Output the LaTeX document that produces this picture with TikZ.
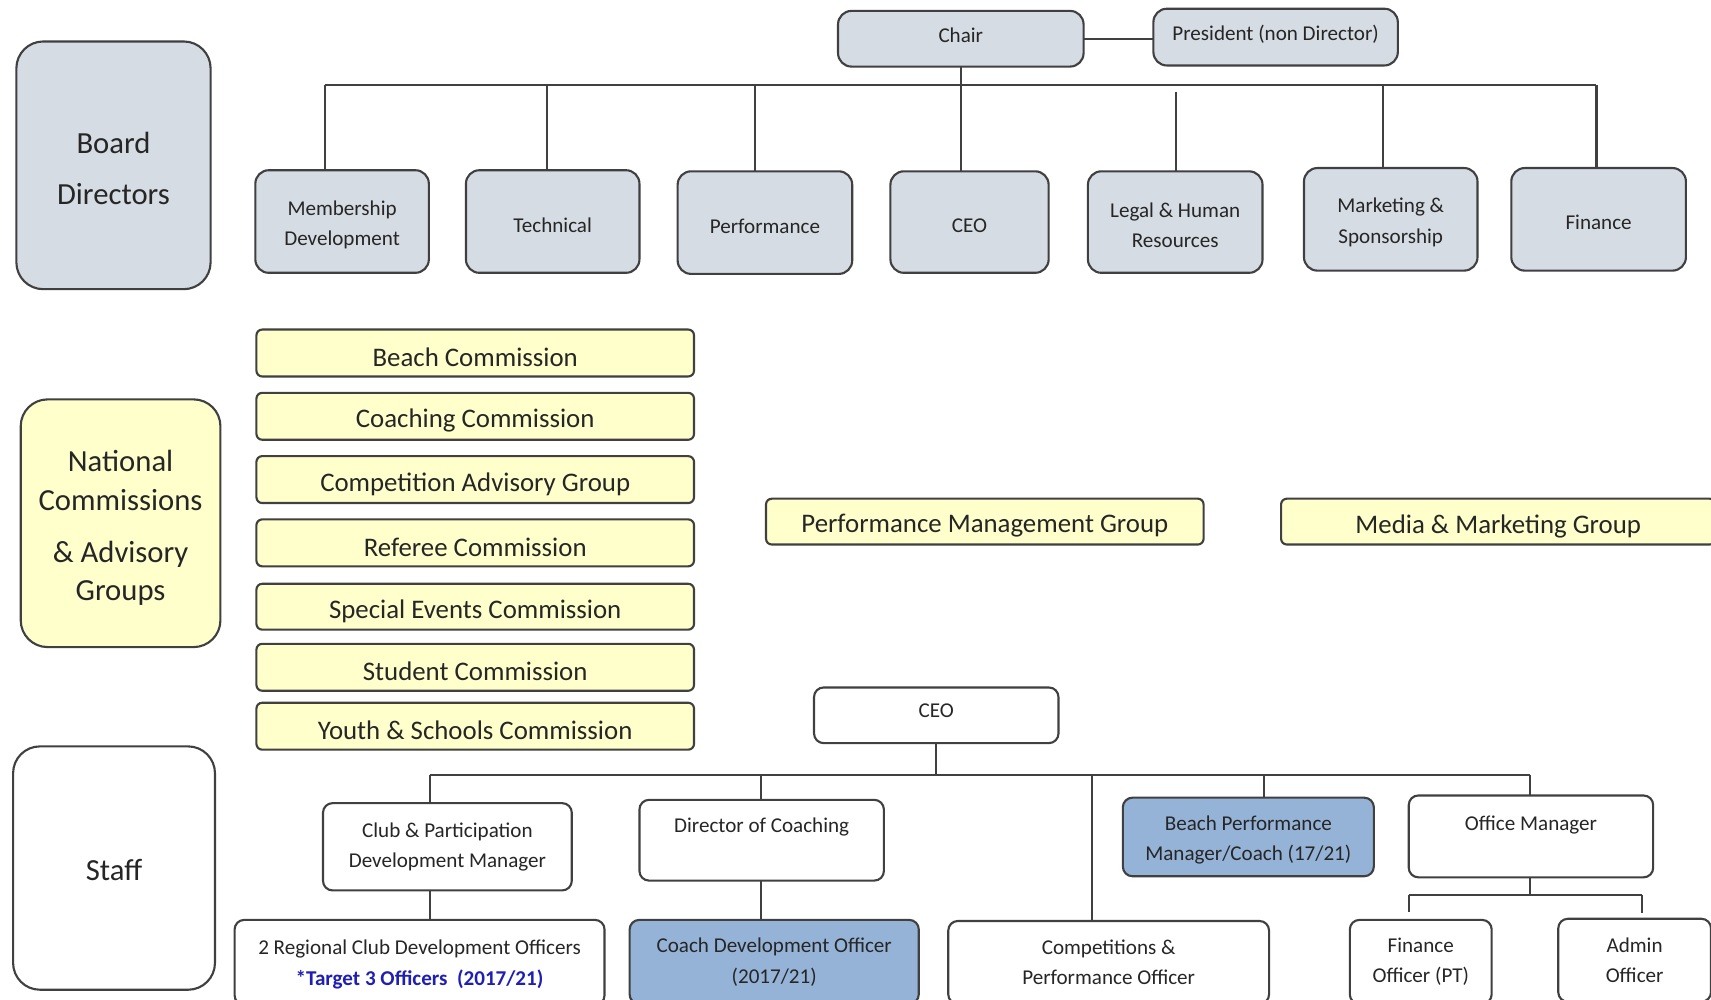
\documentclass[tikz,border=0pt]{standalone}
\usepackage{fontspec}
\setmainfont{Carlito}
\definecolor{bfill}{HTML}{D6DCE4}
\definecolor{yfill}{HTML}{FFFFCC}
\definecolor{sblue}{HTML}{95B3D7}
\definecolor{edge}{HTML}{404040}
\definecolor{ink}{HTML}{262626}
\definecolor{tblue}{HTML}{1F1FB4}
\newcommand\bx[7]{\node[#6, minimum width={(#4-#2)*0.02cm}, minimum height={(#5-#3)*0.02cm}] (#1) at ({(#2+#4)/2},{(#3+#5)/2}) {};
\node[#6, draw=none, fill=none, txtoff] at (#1.center) {#7};}
\begin{document}
\begin{tikzpicture}[x=0.02cm,y=-0.02cm,
 every node/.style={inner sep=0pt, outer sep=0pt, text=ink, align=center},
 txtoff/.style={},
 board/.style={draw=edge, line width=1.1pt, fill=bfill, rounded corners=7pt, font=\fontsize{11}{15.9}\selectfont, txtoff/.style={yshift=-1.7pt}},
 biglbl/.style={draw=edge, line width=1.1pt, rounded corners=14pt, font=\fontsize{16}{26.6}\selectfont},
 comm/.style={draw=edge, line width=1.1pt, fill=yfill, rounded corners=3pt, font=\fontsize{14}{18}\selectfont, txtoff/.style={yshift=-2.3pt}},
 staffbox/.style={draw=edge, line width=1.1pt, fill=white, rounded corners=5pt, font=\fontsize{11}{15.9}\selectfont},
 conn/.style={draw=edge, line width=1.1pt}]
\useasboundingbox[fill=white] (0,0) rectangle (1568,916);
% Board
\bx{bd}{15}{38}{193}{265}{biglbl,fill=bfill,txtoff/.style={yshift=-1.7pt}}{Board\\Directors}
\bx{chair}{768}{10}{993}{61}{board,txtoff/.style={yshift=1.7pt}}{Chair}
\bx{pres}{1057}{8}{1281}{60}{board,txtoff/.style={yshift=1.7pt}}{President (non Director)}
\bx{mem}{234}{156}{393}{250}{board}{Membership\\Development}
\bx{tech}{427}{156}{586}{250}{board}{Technical}
\bx{perf}{621}{157}{781}{251}{board}{Performance}
\bx{ceoa}{816}{157}{961}{250}{board}{CEO}
\bx{legal}{997}{157}{1157}{250}{board}{Legal \& Human\\Resources}
\bx{mkt}{1195}{154}{1354}{248}{board}{Marketing \&\\Sponsorship}
\bx{fin}{1385}{154}{1545}{248}{board}{Finance}
\draw[conn] (chair.east) -- (chair.east -| pres.west);
\coordinate (b1) at (298,78);
\coordinate (b2) at (501,78);
\coordinate (b3) at (692,78);
\coordinate (b5) at (1078,84);
\coordinate (b6) at (1267,78);
\coordinate (b7) at (1463,78);
\draw[conn] (b1) -- (b7);
\draw[conn] (chair.south) -- (chair.south |- ceoa.north);
\draw[conn] (b1) -- (b1 |- mem.north);
\draw[conn] (b2) -- (b2 |- tech.north);
\draw[conn] (b3) -- (b3 |- perf.north);
\draw[conn] (b5) -- (b5 |- legal.north);
\draw[conn] (b6) -- (b6 |- mkt.north);
\draw[conn] (b7) -- (b7 |- fin.north);
% Commissions
\bx{nat}{19}{366}{202}{593}{biglbl,fill=yfill,font=\fontsize{16}{20}\selectfont,txtoff/.style={yshift=-2.5pt}}{National\\Commissions\\[7pt]\& Advisory\\Groups}
\bx{c1}{235}{302}{636}{345}{comm}{Beach Commission}
\bx{c2}{235}{360}{636}{403}{comm}{Coaching Commission}
\bx{c3}{235}{418}{636}{461}{comm}{Competition Advisory Group}
\bx{c4}{235}{476}{636}{519}{comm}{Referee Commission}
\bx{c5}{235}{535}{636}{577}{comm}{Special Events Commission}
\bx{c6}{235}{590}{636}{633}{comm}{Student Commission}
\bx{c7}{235}{644}{636}{687}{comm}{Youth \& Schools Commission}
\bx{pmg}{702}{457}{1103}{499}{comm}{Performance Management Group}
\bx{mmg}{1174}{457}{1572}{499}{comm}{Media \& Marketing Group}
% Staff
\bx{staff}{12}{684}{197}{907}{biglbl,fill=white,txtoff/.style={yshift=-1.1pt}}{Staff}
\bx{ceob}{746}{630}{970}{681}{staffbox,txtoff/.style={yshift=2.6pt}}{CEO}
\bx{club}{296}{736}{524}{816}{staffbox}{Club \& Participation\\Development Manager}
\bx{doc}{586}{733}{810}{807}{staffbox}{Director of Coaching\\\mbox{}}
\bx{beach}{1029}{731}{1259}{803}{staffbox,fill=sblue,txtoff/.style={yshift=-1.6pt}}{Beach Performance\\Manager/Coach (17/21)}
\bx{office}{1291}{729}{1515}{804}{staffbox,txtoff/.style={yshift=-1pt}}{Office Manager\\\mbox{}}
\bx{reg}{215}{843}{554}{921}{staffbox,txtoff/.style={yshift=-1pt}}{2 Regional Club Development Officers\\{\color{tblue}\bfseries *Target 3 Officers\ \ (2017/21)}}
\bx{cdo}{577}{843}{842}{920}{staffbox,fill=sblue}{Coach Development Officer\\(2017/21)}
\bx{comp}{869}{844}{1163}{920}{staffbox}{Competitions \&\\Performance Officer}
\bx{fo}{1237}{843}{1367}{920}{staffbox}{Finance\\Officer (PT)}
\bx{ao}{1428}{842}{1568}{918}{staffbox}{Admin\\Officer}
\coordinate (s1) at (394,710);
\coordinate (s2) at (697,710);
\coordinate (s3) at (1001,710);
\coordinate (s4) at (1158,710);
\coordinate (s5) at (1402,710);
\draw[conn] (ceob.south) -- (ceob.south |- s1);
\draw[conn] (s1) -- (s5);
\draw[conn] (s1) -- (s1 |- club.north);
\draw[conn] (s2) -- (s2 |- doc.north);
\draw[conn] (s3) -- (s3 |- comp.north);
\draw[conn] (s4) -- (s4 |- beach.north);
\draw[conn] (s5) -- (s5 |- office.north);
\draw[conn] (s1 |- club.south) -- (s1 |- reg.north);
\draw[conn] (s2 |- doc.south) -- (s2 |- cdo.north);
\coordinate (oj) at (1402,820);
\coordinate (ol) at (1291,820);
\coordinate (orr) at (1505,820);
\draw[conn] (oj |- office.south) -- (oj);
\draw[conn] (ol) -- (orr);
\draw[conn, shorten >=0.14cm] (ol) -- (ol |- fo.north);
\draw[conn, shorten >=0.1cm] (orr) -- (orr |- ao.north);
\end{tikzpicture}
\end{document}
